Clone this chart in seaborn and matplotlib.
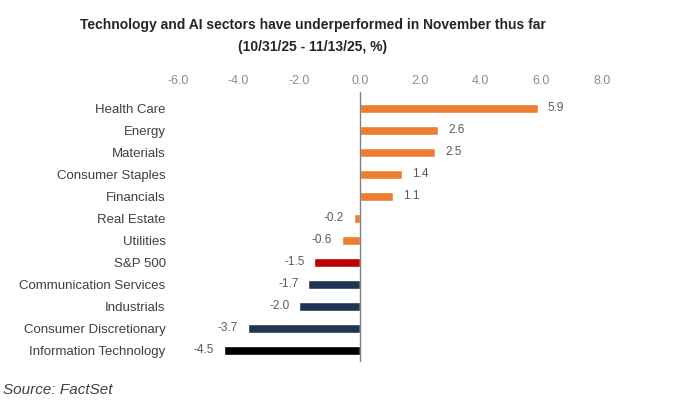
"""Sector performance in November so far (horizontal bar chart)"""

import pandas as pd
import seaborn as sns
import matplotlib.pyplot as plt

sectors = [
    "Health Care",
    "Energy",
    "Materials",
    "Consumer Staples",
    "Financials",
    "Real Estate",
    "Utilities",
    "S&P 500",
    "Communication Services",
    "Industrials",
    "Consumer Discretionary",
    "Information Technology",
]
returns = [5.9, 2.6, 2.5, 1.4, 1.1, -0.2, -0.6, -1.5, -1.7, -2.0, -3.7, -4.5]
x_ticks = [-6.0, -4.0, -2.0, 0.0, 2.0, 4.0, 6.0, 8.0]

ORANGE = "#ED7D31"
RED = "#C00000"
NAVY = "#1F3553"
BLACK = "#000000"
palette = {s: ORANGE for s in sectors}
palette["S&P 500"] = RED
palette["Communication Services"] = NAVY
palette["Industrials"] = NAVY
palette["Consumer Discretionary"] = NAVY
palette["Information Technology"] = BLACK

sns.set_theme(style="white")
plt.rcParams["font.family"] = ["Liberation Sans", "DejaVu Sans"]

df = pd.DataFrame({"sector": sectors, "value": returns})

fig = plt.figure(figsize=(6.8, 4.05), dpi=100)
ax = fig.add_axes([0.262, 0.108, 0.623, 0.652])

sns.barplot(
    data=df,
    x="value",
    y="sector",
    hue="sector",
    palette=palette,
    order=sectors,
    orient="h",
    width=0.4,
    saturation=1,
    legend=False,
    ax=ax,
)

for container in ax.containers:
    ax.bar_label(container, fmt="%.1f", padding=7, fontsize=8.5, color="#595959")

ax.set_xlim(-6, 8)
ax.set_xticks(x_ticks)
ax.set_xticklabels([f"{t:.1f}" for t in x_ticks], color="#8C8C8C", fontsize=9)
ax.xaxis.tick_top()
ax.tick_params(axis="x", length=0, pad=7)
ax.tick_params(axis="y", length=0, pad=9, labelsize=9.5, labelcolor="#404040")
ax.set_xlabel("")
ax.set_ylabel("")

for side in ["top", "right", "bottom", "left"]:
    ax.spines[side].set_visible(False)
ax.axvline(0, color="#808080", lw=1, ymin=0, ymax=1.02, clip_on=False)

fig.text(
    0.46, 0.938,
    "Technology and AI sectors have underperformed in November thus far",
    ha="center", va="center", fontsize=10, fontweight="bold", color="#262626",
)
fig.text(
    0.46, 0.884,
    "(10/31/25 - 11/13/25, %)",
    ha="center", va="center", fontsize=10, fontweight="bold", color="#262626",
)
fig.text(
    0.005, 0.038, "Source: FactSet",
    ha="left", va="center", fontsize=11, style="italic", color="#404040",
)

plt.savefig("out.png", dpi=100)
